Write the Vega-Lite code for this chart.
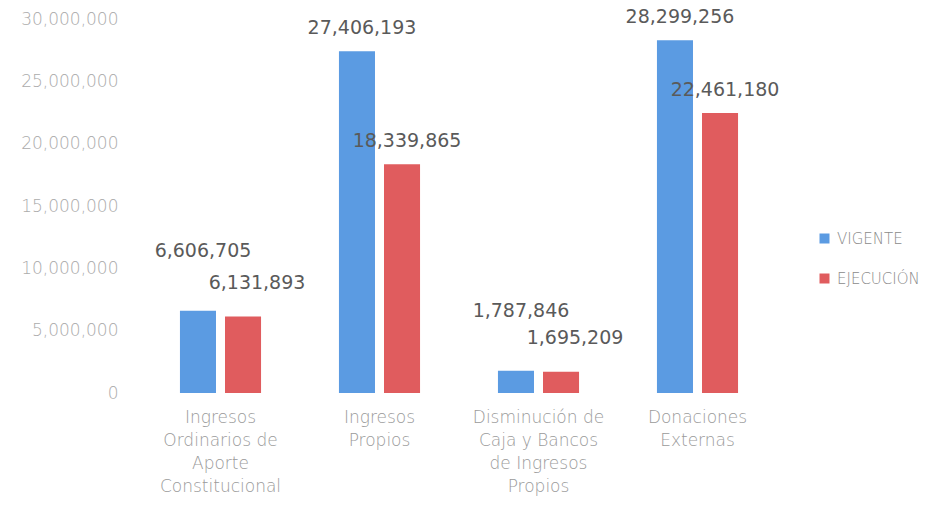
{
  "$schema": "https://vega.github.io/schema/vega-lite/v6.json",
  "width": 636,
  "height": 374,
  "autosize": {"type": "none"},
  "padding": {"left": 141, "top": 19, "right": 173, "bottom": 116},
  "background": "white",
  "data": {
    "values": [
      {"categoria": "Ingresos Ordinarios de Aporte Constitucional", "serie": "VIGENTE", "monto": 6606705},
      {"categoria": "Ingresos Ordinarios de Aporte Constitucional", "serie": "EJECUCIÓN", "monto": 6131893},
      {"categoria": "Ingresos Propios", "serie": "VIGENTE", "monto": 27406193},
      {"categoria": "Ingresos Propios", "serie": "EJECUCIÓN", "monto": 18339865},
      {"categoria": "Disminución de Caja y Bancos de Ingresos Propios", "serie": "VIGENTE", "monto": 1787846},
      {"categoria": "Disminución de Caja y Bancos de Ingresos Propios", "serie": "EJECUCIÓN", "monto": 1695209},
      {"categoria": "Donaciones Externas", "serie": "VIGENTE", "monto": 28299256},
      {"categoria": "Donaciones Externas", "serie": "EJECUCIÓN", "monto": 22461180}
    ]
  },
  "encoding": {
    "x": {
      "field": "categoria",
      "type": "nominal",
      "sort": null,
      "title": null,
      "scale": {"paddingInner": 0.49, "paddingOuter": 0.245},
      "axis": {
        "domain": false,
        "ticks": false,
        "labelAngle": 0,
        "labelPadding": 16,
        "labelFont": "DejaVu Sans",
        "labelFontWeight": 300,
        "labelFontSize": 17,
        "labelColor": "#9a9a9a",
        "labelLineHeight": 23,
        "labelLimit": 300,
        "labelExpr": "datum.value == 'Ingresos Ordinarios de Aporte Constitucional' ? ['Ingresos', 'Ordinarios de', 'Aporte', 'Constitucional'] : datum.value == 'Ingresos Propios' ? ['Ingresos', 'Propios'] : datum.value == 'Disminución de Caja y Bancos de Ingresos Propios' ? ['Disminución de', 'Caja y Bancos', 'de Ingresos', 'Propios'] : ['Donaciones', 'Externas']"
      }
    },
    "xOffset": {
      "field": "serie",
      "type": "nominal",
      "sort": ["VIGENTE", "EJECUCIÓN"],
      "scale": {"paddingInner": 0.2, "paddingOuter": 0}
    },
    "y": {
      "field": "monto",
      "type": "quantitative",
      "title": null,
      "scale": {"domain": [0, 30000000], "nice": false},
      "axis": {
        "domain": false,
        "ticks": false,
        "grid": false,
        "values": [0, 5000000, 10000000, 15000000, 20000000, 25000000, 30000000],
        "format": ",d",
        "labelPadding": 23,
        "labelFont": "DejaVu Sans",
        "labelFontWeight": 300,
        "labelFontSize": 17,
        "labelColor": "#ababab"
      }
    }
  },
  "layer": [
    {
      "mark": {"type": "bar"},
      "encoding": {
        "color": {
          "field": "serie",
          "type": "nominal",
          "sort": ["VIGENTE", "EJECUCIÓN"],
          "scale": {"domain": ["VIGENTE", "EJECUCIÓN"], "range": ["#5b9be2", "#e05c5e"]},
          "legend": {
            "title": null,
            "orient": "none",
            "legendX": 676,
            "legendY": 212,
            "symbolType": "square",
            "symbolSize": 100,
            "symbolStrokeWidth": 0,
            "labelFont": "DejaVu Sans",
            "labelFontWeight": 300,
            "labelFontSize": 15,
            "labelColor": "#8a8a8a",
            "labelOffset": 5,
            "rowPadding": 24,
            "padding": 0
          }
        }
      }
    },
    {
      "mark": {
        "type": "text",
        "baseline": "middle",
        "align": "center",
        "dy": {"expr": "datum.monto < 10000000 ? (datum.serie == 'VIGENTE' ? -60 : -34) : -23"},
        "dx": {"expr": "datum.monto < 10000000 && datum.serie == 'EJECUCIÓN' ? 14 : 5"},
        "font": "DejaVu Sans",
        "fontSize": 19,
        "color": "#5a5a5a"
      },
      "encoding": {
        "text": {"field": "monto", "type": "quantitative", "format": ",d"}
      }
    }
  ],
  "config": {"view": {"stroke": null}}
}
